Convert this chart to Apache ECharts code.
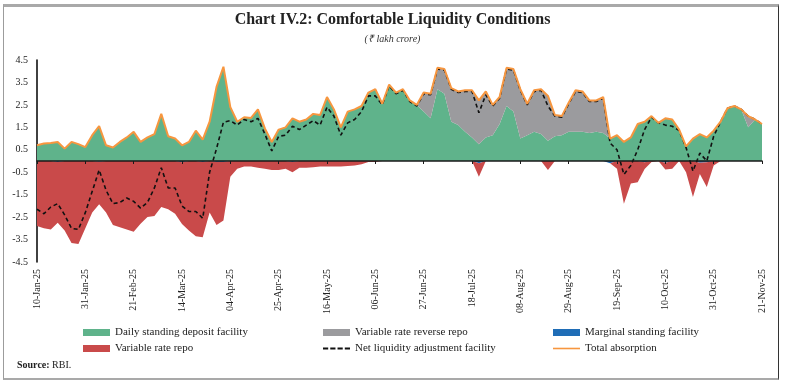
<!DOCTYPE html>
<html>
<head>
<meta charset="utf-8">
<script src="https://cdn.jsdelivr.net/npm/echarts@6/dist/echarts.min.js"></script>
<style>
html,body{margin:0;padding:0;background:#fff;}
#wrap{position:relative;width:785px;height:384px;overflow:hidden;}
#chart{position:absolute;left:0;top:0;width:785px;height:384px;}
#frame{position:absolute;left:3px;top:4px;width:774px;height:371px;border-top:3px solid #a9a9a9;border-left:1px solid #9c9c9c;border-right:1px solid #333;border-bottom:2px solid #a9a9a9;pointer-events:none;}
</style>
</head>
<body>
<div id="wrap"><div id="chart"></div><div id="frame"></div></div>
<script>
// ---- Data (₹ lakh crore), sampled every 3 days from 10-Jan-25 to 21-Nov-25 ----
const startDate = Date.UTC(2025, 0, 10);
const stepDays = 3;
const pointCount = 106;
const monthNames = ['Jan','Feb','Mar','Apr','May','Jun','Jul','Aug','Sep','Oct','Nov','Dec'];
const categories = [];
for (let k = 0; k < pointCount; k++) {
  const d = new Date(startDate + k * stepDays * 86400000);
  const dd = String(d.getUTCDate()).padStart(2, '0');
  categories.push(dd + '-' + monthNames[d.getUTCMonth()] + '-' + String(d.getUTCFullYear()).slice(2));
}

const yTickLabels = ['-4.5','-3.5','-2.5','-1.5','-0.5','0.5','1.5','2.5','3.5','4.5'];

const dailyStandingDeposit = [
  0.70,0.78,0.80,0.85,0.55,0.85,0.75,0.62,1.15,1.55,
  0.70,0.60,0.85,1.05,1.30,0.85,1.05,1.20,2.10,1.10,
  1.00,0.70,0.85,1.35,0.95,1.75,3.30,4.20,2.40,1.75,
  1.95,1.92,2.30,1.45,0.85,1.40,1.50,1.90,1.75,1.85,
  2.10,2.05,2.85,2.30,1.50,2.20,2.30,2.45,3.05,3.20,
  2.55,3.40,3.05,3.20,2.70,2.50,2.20,1.90,3.20,3.00,
  1.75,1.60,1.30,1.05,0.75,1.05,1.15,1.65,2.45,2.20,
  1.00,1.15,1.30,1.20,0.90,1.10,1.15,1.30,1.30,1.30,
  1.25,1.30,1.25,1.00,1.15,0.85,1.05,1.65,1.75,2.00,
  1.70,1.90,1.85,1.40,0.65,1.00,1.20,1.05,1.35,1.75,
  2.35,2.45,2.30,1.50,1.85,1.65
];

const variableRateReverseRepo = [
  0,0,0,0,0,0,0,0,0,0,
  0,0,0,0,0,0,0,0,0,0,
  0,0,0,0,0,0,0,0,0,0,
  0,0,0,0,0,0,0,0,0,0,
  0,0,0,0,0,0,0,0,0,0,
  0,0,0,0,0,0,0.85,1.10,0.95,1.10,
  1.50,1.50,1.85,2.10,1.95,2.05,1.35,1.20,1.70,1.90,
  2.20,1.40,1.85,2.00,2.00,0.95,0.85,1.30,1.85,1.80,
  1.45,1.40,1.60,0,0,0,0,0,0,0,
  0,0,0,0,0,0,0,0,0,0,
  0,0,0,0.50,0,0
];

const marginalStanding = [
  0,0,0,-0.05,0,0,0,0,0,-0.03,
  0,0,0,0,0,0,0,0,0,0,
  0,-0.06,0,0,-0.05,0,-0.05,-0.05,0,0,
  0,0,0,0,0,0,0,-0.05,0,0,
  0,0,0,0,0,0,0,0,0,0,
  0,0,0,0,0,0,0,0,0,0,
  0,0,0,0,-0.10,0,0,0,0,0,
  0,0,0,0,0,0,0,0,0,0,
  0,0,0,-0.10,0,0,0,0,-0.06,0,
  0,-0.08,0,0,0,0,-0.08,-0.06,0,0,
  0,0,0,0,0,-0.03
];

const variableRateRepo = [
  -2.90,-3.00,-3.05,-2.70,-3.10,-3.65,-3.70,-3.00,-2.30,-1.90,
  -2.30,-2.85,-2.95,-3.05,-3.15,-2.80,-2.50,-2.45,-2.05,-2.15,
  -2.35,-2.75,-3.10,-3.35,-3.35,-2.30,-2.80,-2.60,-0.70,-0.35,
  -0.25,-0.25,-0.30,-0.35,-0.40,-0.40,-0.35,-0.45,-0.30,-0.30,
  -0.28,-0.25,-0.25,-0.25,-0.25,-0.22,-0.20,-0.15,-0.05,-0.05,
  0,0,0,0,0,0,0,0,0,0,
  0,0,0,0,-0.60,0,0,0,0,0,
  0,0,0,0,-0.40,0,0,0,0,0,
  0,0,0,0,-0.35,-1.90,-1.00,-0.95,-0.30,-0.05,
  0,-0.30,-0.35,0,-0.50,-1.60,-0.50,-1.10,-0.20,0,
  0,0,0,0,0,0
];

const netLaf = [
  -2.15,-2.35,-2.05,-1.90,-2.40,-3.00,-3.05,-2.30,-1.35,-0.40,
  -1.30,-1.90,-1.85,-1.65,-1.80,-2.10,-1.85,-1.20,-0.30,-1.20,
  -1.20,-2.00,-2.25,-2.25,-2.55,-0.50,0.55,1.73,1.80,1.60,
  1.85,1.75,1.90,1.20,0.45,1.10,1.15,1.55,1.40,1.60,
  1.80,1.60,2.40,2.00,1.15,1.70,1.85,2.20,2.90,2.90,
  2.50,3.35,3.00,3.15,2.65,2.45,3.00,2.95,4.10,4.05,
  3.20,3.05,3.10,3.10,2.15,2.95,2.45,2.80,4.10,4.05,
  3.15,2.50,3.10,3.15,2.45,2.00,1.95,2.55,3.10,3.05,
  2.65,2.65,2.80,0.80,0.50,-0.60,-0.20,0.50,1.40,1.95,
  1.70,1.60,1.55,1.35,0.60,-0.45,0.35,0.00,1.10,1.75,
  2.35,2.45,2.30,2.00,1.85,1.65
];

// Total absorption = SDF + VRRR
const totalAbsorption = dailyStandingDeposit.map((v, i) => +(v + variableRateReverseRepo[i]).toFixed(2));

// ---- Styles ----
const FONT = '"Liberation Serif", "Times New Roman", serif';
const C_GREEN = '#5FB38B';
const C_GRAY = '#9B9B9E';
const C_BLUE = '#1F6DB6';
const C_RED = '#C94A4A';
const C_ORANGE = '#F7963F';

function areaSeries(name, data, color, stack) {
  return {
    name, type: 'line', data, stack, xAxisIndex: 0, yAxisIndex: 0,
    symbol: 'none', showSymbol: false, color,
    lineStyle: { width: 0, color },
    areaStyle: { color, opacity: 1 },
    emphasis: { disabled: true }, z: 2
  };
}

const chart = echarts.init(document.getElementById('chart'), null, { renderer: 'canvas' });
const legendBase = {
  orient: 'vertical', itemWidth: 27, itemHeight: 7, itemGap: 5, selectedMode: false,
  textStyle: { fontFamily: FONT, fontSize: 11, color: '#222' }, padding: 0
};
const dashIcon = 'path://M0,0h5v2h-5z M7,0h5v2h-5z M14,0h5v2h-5z M21,0h5v2h-5z';
const lineIcon = 'path://M0,0h27v1.6h-27z';

chart.setOption({
  animation: false,
  textStyle: { fontFamily: FONT },
  title: [
    { text: 'Chart IV.2: Comfortable Liquidity Conditions', left: 'center', top: 7,
      textStyle: { fontFamily: FONT, fontSize: 16, fontWeight: 'bold', color: '#222' } },
    { text: '(₹ lakh crore)', left: 'center', top: 29,
      textStyle: { fontFamily: FONT, fontSize: 10, fontStyle: 'italic', fontWeight: 'normal', color: '#333' } },
    { text: '{b|Source:} RBI.', left: 12, top: 355,
      textStyle: { fontFamily: FONT, fontSize: 10, fontWeight: 'normal', color: '#222',
        rich: { b: { fontFamily: FONT, fontSize: 10, fontWeight: 'bold', color: '#222' } } } }
  ],
  legend: [
    Object.assign({}, legendBase, { left: 83, top: 327,
      data: [{ name: 'Daily standing deposit facility', icon: 'rect' }, { name: 'Variable rate repo', icon: 'rect' }] }),
    Object.assign({}, legendBase, { left: 323, top: 327,
      data: [{ name: 'Variable rate reverse repo', icon: 'rect' }, { name: 'Net liquidity adjustment facility', icon: dashIcon }] }),
    Object.assign({}, legendBase, { left: 553, top: 327,
      data: [{ name: 'Marginal standing facility', icon: 'rect' }, { name: 'Total absorption', icon: lineIcon }] })
  ],
  grid: { left: 37, right: 23, top: 60, bottom: 122, containLabel: false },
  xAxis: [
    { type: 'category', data: categories, boundaryGap: false, z: 10,
      axisLine: { onZero: true, lineStyle: { color: '#1a1a1a', width: 1.6 } },
      axisTick: { show: true, interval: 6, length: 3, lineStyle: { color: '#1a1a1a', width: 1 } },
      axisLabel: { show: false }, splitLine: { show: false } },
    { type: 'category', data: categories, boundaryGap: false, position: 'bottom',
      axisLine: { show: false, onZero: false }, axisTick: { show: false },
      axisLabel: { show: true, interval: 6, rotate: 90, margin: 7,
        fontFamily: FONT, fontSize: 10, color: '#222' },
      splitLine: { show: false } }
  ],
  yAxis: {
    type: 'value', min: -4.5, max: 4.5, interval: 0.5,
    axisLine: { show: true, lineStyle: { color: '#111', width: 1.6 } },
    axisTick: { show: false },
    splitLine: { show: false },
    axisLabel: { margin: 9, fontFamily: FONT, fontSize: 10, color: '#222',
      formatter: v => { const s = v.toFixed(1); return yTickLabels.indexOf(s) >= 0 ? s : ''; } }
  },
  series: [
    areaSeries('Daily standing deposit facility', dailyStandingDeposit, C_GREEN, 'pos'),
    areaSeries('Variable rate reverse repo', variableRateReverseRepo, C_GRAY, 'pos'),
    areaSeries('Marginal standing facility', marginalStanding, C_BLUE, 'neg'),
    areaSeries('Variable rate repo', variableRateRepo, C_RED, 'neg'),
    { name: 'Net liquidity adjustment facility', type: 'line', data: netLaf,
      symbol: 'none', showSymbol: false, color: '#111',
      lineStyle: { color: '#111', width: 1.6, type: [4, 3] },
      emphasis: { disabled: true }, z: 4 },
    { name: 'Total absorption', type: 'line', data: totalAbsorption,
      symbol: 'none', showSymbol: false, color: C_ORANGE,
      lineStyle: { color: C_ORANGE, width: 2 },
      emphasis: { disabled: true }, z: 5 }
  ]
});
</script>
</body>
</html>
